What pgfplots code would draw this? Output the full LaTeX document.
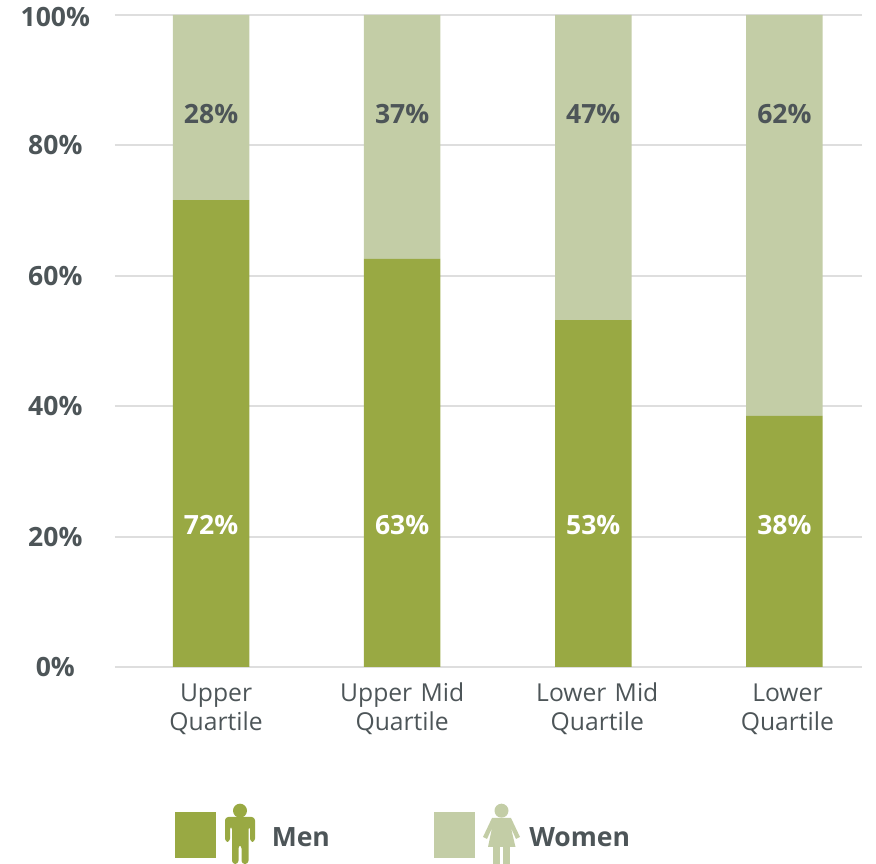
\documentclass[border=0pt]{standalone}
\usepackage{pgfplots}
\usepackage{pgfplotstable}
\pgfplotsset{compat=1.18}
\usepackage{fontspec}
\setmainfont{Open Sans}
\definecolor{men}{HTML}{99A943}
\definecolor{women}{HTML}{C3CDA6}
\definecolor{ink}{HTML}{4D5558}
\definecolor{gridc}{HTML}{DEDEDE}
\pgfplotstableread{
x y label
0 21.8 72\%
1 21.8 63\%
2 21.8 53\%
3 21.8 38\%
}\menlabels
\pgfplotstableread{
x y label
0 84.8 28\%
1 84.8 37\%
2 84.8 47\%
3 84.8 62\%
}\womenlabels
\newcommand{\bfs}{\fontsize{19.9pt}{21pt}\selectfont\bfseries}
\begin{document}
\begin{tikzpicture}
\path[use as bounding box] (0,0) rectangle (657pt,648pt);
\begin{axis}[
  at={(86.25pt,147.75pt)}, anchor=south west,
  scale only axis, width=560.25pt, height=489pt,
  ybar stacked, bar width=57.4pt,
  xmin=-0.5026, xmax=3.406, ymin=0, ymax=100,
  axis line style={draw=none},
  axis x line*=bottom,
  axis y line*=left,
  xtick={0,1,2,3},
  xticklabels={\hspace*{7.5pt}Upper\\\hspace*{7.5pt}Quartile,Upper Mid\\Quartile,\hspace*{6pt}Lower Mid\\\hspace*{6pt}Quartile,\hspace*{4.5pt}Lower\\\hspace*{4.5pt}Quartile},
  xticklabel style={font=\fontsize{18.5pt}{21.75pt}\selectfont, text=ink, align=center, text width=125pt, anchor=north, yshift=-7.25pt},
  ytick={0,20,40,60,80,100},
  yticklabels={0\%,20\%,40\%,60\%,80\%,\raisebox{-1.5pt}{100\%}},
  yticklabel style={font=\bfs, text=ink, align=center, text width=60pt, anchor=center, xshift=-44.75pt, yshift=-3pt},
  typeset ticklabels with strut,
  major tick length=0pt,
  ymajorgrids,
  major grid style={gridc, line width=1.5pt},
  clip=false,
]
\addplot[ybar, fill=men, draw=none] coordinates {(0,71.6) (1,62.6) (2,53.2) (3,38.5)};
\addplot[ybar, fill=women, draw=none] coordinates {(0,28.4) (1,37.4) (2,46.8) (3,61.5)};
\end{axis}
\begin{axis}[
  at={(86.25pt,147.75pt)}, anchor=south west,
  scale only axis, width=560.25pt, height=489pt,
  xmin=-0.5026, xmax=3.406, ymin=0, ymax=100,
  hide axis, clip=false,
  point meta=explicit symbolic,
  nodes near coords,
  nodes near coords align={anchor=center},
]
\addplot[draw=none, mark=none, nodes near coords style={font=\bfs, text=white, anchor=center}] table[x=x,y=y,meta=label] {\menlabels};
\addplot[draw=none, mark=none, nodes near coords style={font=\bfs, text=ink, anchor=center}] table[x=x,y=y,meta=label] {\womenlabels};
\end{axis}
\begin{scope}[x=.75pt,y=-.75pt,yshift=648pt]
  \fill[men] (175,812) rectangle (216,858);
  \fill[women] (434,812) rectangle (475,858);
  \fill[men] (240,810.7) circle[radius=7];
  \fill[men,rounded corners=2.5pt] (225,842) -- (225,817) -- (255,817) -- (255,842) -- (250,842) -- (250,826) -- (248.5,826) -- (248.5,864) -- (241.5,864) -- (241.5,845) -- (238.5,845) -- (238.5,864) -- (232,864) -- (232,826) -- (230,826) -- (230,842) -- cycle;
  \fill[women] (501.5,810.7) circle[radius=7];
  \fill[women] (493,847) rectangle (500,864);
  \fill[women] (503,847) rectangle (510,864);
  \fill[women] (488,847) -- (515.5,847) -- (511,828) -- (516,839) -- (520,837) -- (511,818) -- (492,818) -- (483,837) -- (487,839) -- (492,828) -- cycle;
  \node[anchor=west,inner sep=0pt,font=\bfs,text=ink] at (271.5,837) {Men};
  \node[anchor=west,inner sep=0pt,font=\bfs,text=ink] at (529,837) {Women};
\end{scope}
\end{tikzpicture}
\end{document}
